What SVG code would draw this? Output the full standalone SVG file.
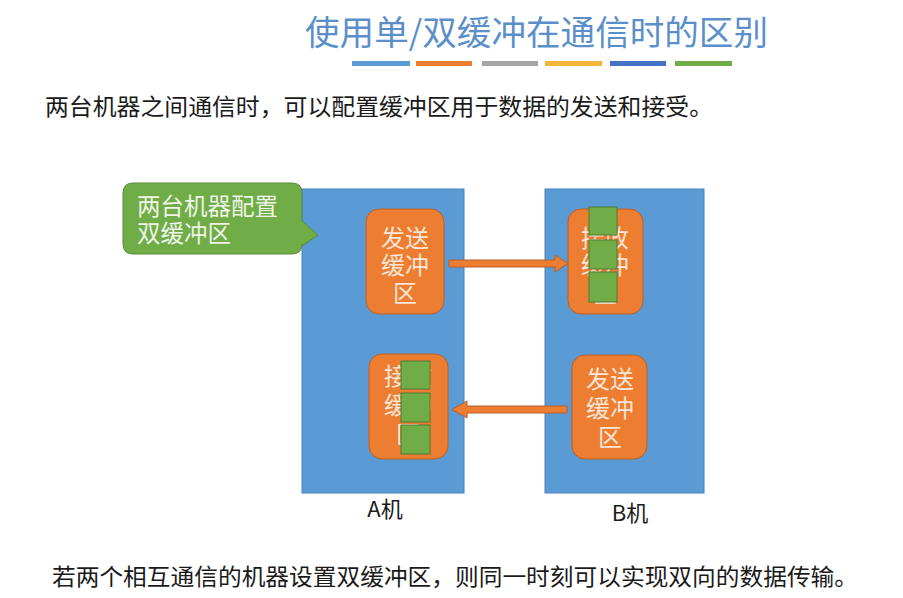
<svg xmlns="http://www.w3.org/2000/svg" width="903" height="598" viewBox="0 0 903 598">
<style>
text{font-family:"Noto Sans CJK SC","Liberation Sans",sans-serif}
.title{font-size:34px;fill:#5b8fca}
.body{font-size:23px;fill:#1a1a1a}
.machine{fill:#5b9bd5;stroke:#4a83b8;stroke-width:1}
.buf{fill:#ed7d31;stroke:#b8602a;stroke-width:1}
.buftxt{font-size:24px;fill:#fbe5d6;text-anchor:middle}
.sq{fill:#70ad47;stroke:#4f7b35;stroke-width:1}
.arrow{fill:#ed7d31;stroke:#b8602a;stroke-width:1}
.lbl{font-size:22px;fill:#1a1a1a;text-anchor:middle}
</style>
<rect width="903" height="598" fill="#ffffff"/>
<g id="title">
<text class="title" x="305" y="45" textLength="463" lengthAdjust="spacingAndGlyphs">使用单/双缓冲在通信时的区别</text>
<rect x="352" y="61" width="58" height="5" fill="#5b9bd5"/>
<rect x="416" y="61" width="56" height="5" fill="#ed7d31"/>
<rect x="482" y="61" width="56" height="5" fill="#a5a5a5"/>
<rect x="545" y="61" width="57" height="5" fill="#f4b43c"/>
<rect x="610" y="61" width="56" height="5" fill="#4472c4"/>
<rect x="675" y="61" width="57" height="5" fill="#70ad47"/>
</g>
<g id="subtitle">
<text class="body" x="45" y="115" textLength="668" lengthAdjust="spacingAndGlyphs">两台机器之间通信时，可以配置缓冲区用于数据的发送和接受。</text>
</g>
<g id="machineA">
<rect class="machine" x="302" y="189" width="162" height="304"/>
<text class="lbl" x="385" y="517">A机</text>
</g>
<g id="machineB">
<rect class="machine" x="545" y="189" width="159" height="304"/>
<text class="lbl" x="630" y="521">B机</text>
</g>
<g id="callout">
<path d="M133,183 H292 Q302,183 302,193 V221 L318,235 L302,246 V244 Q302,254 292,254 H133 Q123,254 123,244 V193 Q123,183 133,183 Z" fill="#70ad47" stroke="#5a8c3a" stroke-width="1"/>
<text font-size="23.5" fill="#eef3e8"><tspan x="137" y="215">两台机器配置</tspan><tspan x="137" y="242">双缓冲区</tspan></text>
</g>
<g id="A-send">
<rect class="buf" x="366" y="209" width="78" height="105" rx="13"/>
<text class="buftxt"><tspan x="405" y="247">发送</tspan><tspan x="405" y="274">缓冲</tspan><tspan x="405" y="302">区</tspan></text>
</g>
<g id="B-recv">
<rect class="buf" x="568" y="209" width="75" height="105" rx="13"/>
<text class="buftxt"><tspan x="605" y="247">接收</tspan><tspan x="605" y="274">缓冲</tspan><tspan x="605" y="302">区</tspan></text>
<rect class="sq" x="589" y="207" width="28" height="28"/>
<rect class="sq" x="589" y="240" width="28" height="29"/>
<rect class="sq" x="589" y="272" width="28" height="30"/>
</g>
<g id="A-recv">
<rect class="buf" x="369" y="354" width="79" height="105" rx="13"/>
<text class="buftxt"><tspan x="408" y="385">接收</tspan><tspan x="408" y="414">缓冲</tspan><tspan x="408" y="443">区</tspan></text>
<rect class="sq" x="401" y="361" width="29" height="28"/>
<rect class="sq" x="401" y="393" width="29" height="29"/>
<rect class="sq" x="401" y="425" width="29" height="29"/>
</g>
<g id="B-send">
<rect class="buf" x="572" y="355" width="75" height="104" rx="13"/>
<text class="buftxt"><tspan x="610" y="388">发送</tspan><tspan x="610" y="417">缓冲</tspan><tspan x="610" y="446">区</tspan></text>
</g>
<g id="connectors">
<polygon class="arrow" points="449,260 555,260 555,255 568,263.5 555,272 555,267 449,267"/>
<polygon class="arrow" points="567,406 467,406 467,401 452,409.5 467,418 467,413 567,413"/>
</g>
<g id="conclusion">
<text class="body" x="52" y="585" textLength="806" lengthAdjust="spacingAndGlyphs">若两个相互通信的机器设置双缓冲区，则同一时刻可以实现双向的数据传输。</text>
</g>
</svg>
